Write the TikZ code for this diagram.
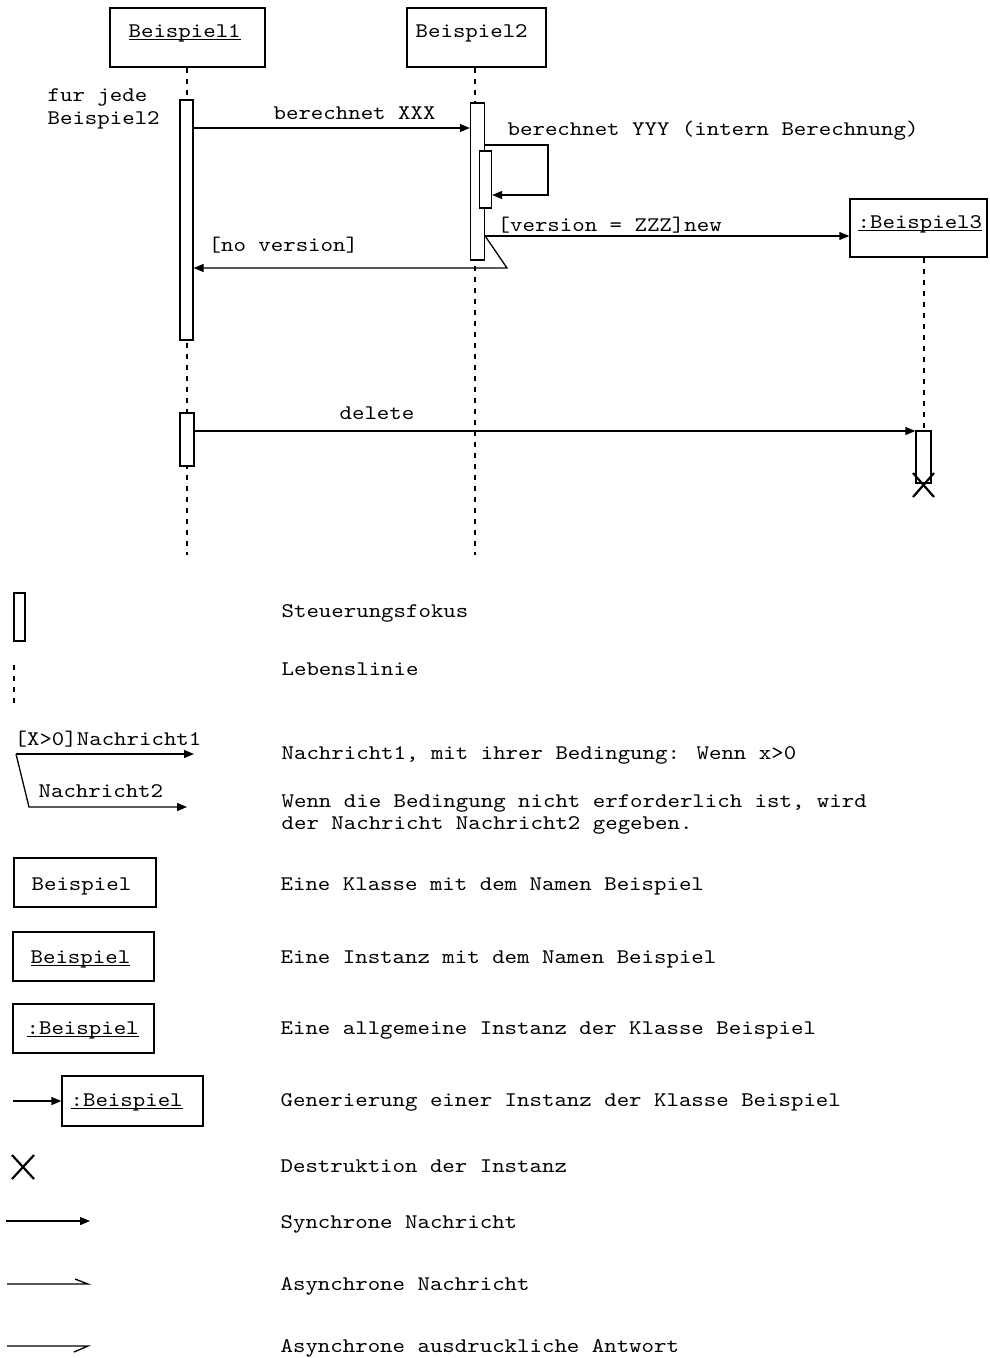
\documentclass[tikz,border=0pt]{standalone}
\usepackage{fontspec}
\setmainfont[FakeStretch=1.14]{lmmono10-regular.otf}
\usetikzlibrary{arrows.meta}
\newcommand{\myul}[1]{\setbox0\hbox{#1}\rlap{\copy0}\rule[-3pt]{\wd0}{0.9pt}}
\begin{document}
\begin{tikzpicture}[x=1pt,y=-1pt,line width=1.3pt,
  every node/.style={font=\fontsize{20.8}{24}\selectfont},
  box/.style={draw, rectangle, inner sep=0pt, fill=white},
  act/.style={draw, rectangle, inner sep=0pt, fill=white},
  life/.style={dash pattern=on 5pt off 6pt, line width=1.2pt},
  txt/.style={inner sep=0pt, anchor=base west},
  sync/.style={-{Triangle[length=10pt,width=8pt]}},
  cross/.style={line width=2.2pt}
]
\useasboundingbox (0,0) rectangle (989,1358);
\fill[white] (0,0) rectangle (989,1358);

% ---------- objects ----------
\node[box, minimum width=155pt, minimum height=59pt] (b1) at (187.5,37.5) {};
\node[txt] (b1t) at (128,37) {\myul{Beispiel1}};
\node[box, minimum width=139pt, minimum height=59pt] (b2) at (476.5,37.5) {};
\node[txt] (b2t) at (415,37) {Beispiel2};

% lifelines
\coordinate (l1end) at (187,555);
\coordinate (l2end) at (475,555);
\draw[life] (b1.south -| l1end) -- (l1end);
\draw[life] (b2.south -| l2end) -- (l2end);

\node[box, minimum width=137pt, minimum height=58pt] (b3) at (918.5,228) {};
\node[txt] (b3t) at (857,228) {\myul{:Beispiel3}};
\coordinate (l3end) at (924,431);
\draw[life] (b3.south -| l3end) -- (l3end);

% activations
\node[act, minimum width=13pt, minimum height=240pt] (a1) at (186.5,220) {};
\node[act, minimum width=14pt, minimum height=157pt] (a2) at (477.5,181.5) {};
\node[act, minimum width=12pt, minimum height=57pt] (n2) at (485.5,179.5) {};
\node[act, minimum width=14pt, minimum height=53pt] (a1b) at (187,439.5) {};
\node[act, minimum width=15pt, minimum height=52pt] (a3) at (923.5,457) {};

% texts
\node[txt] (fj1) at (47,101) {fur jede};
\node[txt] (fj2) at (47,124) {Beispiel2};

% y levels
\coordinate (y128) at (0,128);
\coordinate (y145) at (0,145);
\coordinate (y236) at (0,236);
\coordinate (y268) at (0,268);
\coordinate (y431) at (0,431);
\coordinate (loopc) at (548,195);
\coordinate (brc) at (507,268);

% messages
\draw[sync] (a1.east |- y128) -- (a2.west |- y128);
\node[txt] (m1) at (273,119) {berechnet XXX};

\draw[sync] (a2.east |- y145) -| (loopc) -- (n2.east |- loopc);
\node[txt] (m2) at (507,135) {berechnet YYY (intern Berechnung)};

\draw[sync] (a2.east |- y236) -- (b3.west |- y236);
\node[txt] (m3) at (497,231) {[version = ZZZ]new};

\draw[sync] (a2.east |- y236) -- (brc) -- (a1.east |- y268);
\node[txt] (m4) at (208,251) {[no version]};

\draw[sync] (a1b.east |- y431) -- (a3.west |- y431);
\node[txt] (m5) at (339,419) {delete};

\draw[cross] (913,473) -- (934,497) (913,497) -- (934,473);

% ---------- legend ----------
\node[act, minimum width=11pt, minimum height=48pt] (lg1) at (19.5,617) {};
\node[txt] (lt1) at (281,617) {Steuerungsfokus};

\draw[life] (14,665) -- (14,708);
\node[txt] (lt2) at (281,675) {Lebenslinie};

\node[txt] (lm1) at (14,745) {[X>0]Nachricht1};
\coordinate (lmA) at (16,754);
\coordinate (lmB) at (194,754);
\coordinate (lmC) at (29,807);
\coordinate (lmD) at (187,807);
\draw[sync] (lmA) -- (lmB);
\draw[sync] (lmA) -- (lmC) -- (lmD);
\node[txt] (lm2) at (38,797) {Nachricht2};
\node[txt] (lt3) at (281,759) {Nachricht1, mit ihrer Bedingung: Wenn x>0};
\node[txt] (lt4a) at (281,807) {Wenn die Bedingung nicht erforderlich ist, wird};
\node[txt] (lt4b) at (281,829) {der Nachricht Nachricht2 gegeben.};

\node[box, minimum width=142pt, minimum height=49pt] (lb1) at (85,882.5) {};
\node[txt] (lb1t) at (31,890) {Beispiel};
\node[txt] (lt5) at (280,890) {Eine Klasse mit dem Namen Beispiel};

\node[box, minimum width=141pt, minimum height=49pt] (lb2) at (83.5,956.5) {};
\node[txt] (lb2t) at (30,963) {\myul{Beispiel}};
\node[txt] (lt6) at (280,963) {Eine Instanz mit dem Namen Beispiel};

\node[box, minimum width=141pt, minimum height=49pt] (lb3) at (83.5,1028.5) {};
\node[txt] (lb3t) at (26,1034) {\myul{:Beispiel}};
\node[txt] (lt7) at (280,1034) {Eine allgemeine Instanz der Klasse Beispiel};

\node[box, minimum width=141pt, minimum height=50pt] (lb4) at (132.5,1101) {};
\node[txt] (lb4t) at (70,1106) {\myul{:Beispiel}};
\coordinate (lb4s) at (13,1101);
\draw[sync] (lb4s) -- (lb4.west);
\node[txt] (lt8) at (280,1106) {Generierung einer Instanz der Klasse Beispiel};

\draw[cross] (12,1155) -- (34,1179) (12,1179) -- (34,1155);
\node[txt] (lt9) at (280,1172) {Destruktion der Instanz};

\coordinate (s1a) at (6,1221);
\coordinate (s1b) at (90,1221);
\draw[sync] (s1a) -- (s1b);
\node[txt] (lt10) at (280,1228) {Synchrone Nachricht};

\coordinate (s2a) at (7,1284);
\coordinate (s2b) at (88,1284);
\draw (s2a) -- (s2b) -- ++(-13,-5);
\node[txt] (lt11) at (280,1290) {Asynchrone Nachricht};

\coordinate (s3a) at (7,1346);
\coordinate (s3b) at (88,1346);
\draw (s3a) -- (s3b) -- ++(-14,6);
\node[txt] (lt12) at (280,1352) {Asynchrone ausdruckliche Antwort};
\end{tikzpicture}
\end{document}
